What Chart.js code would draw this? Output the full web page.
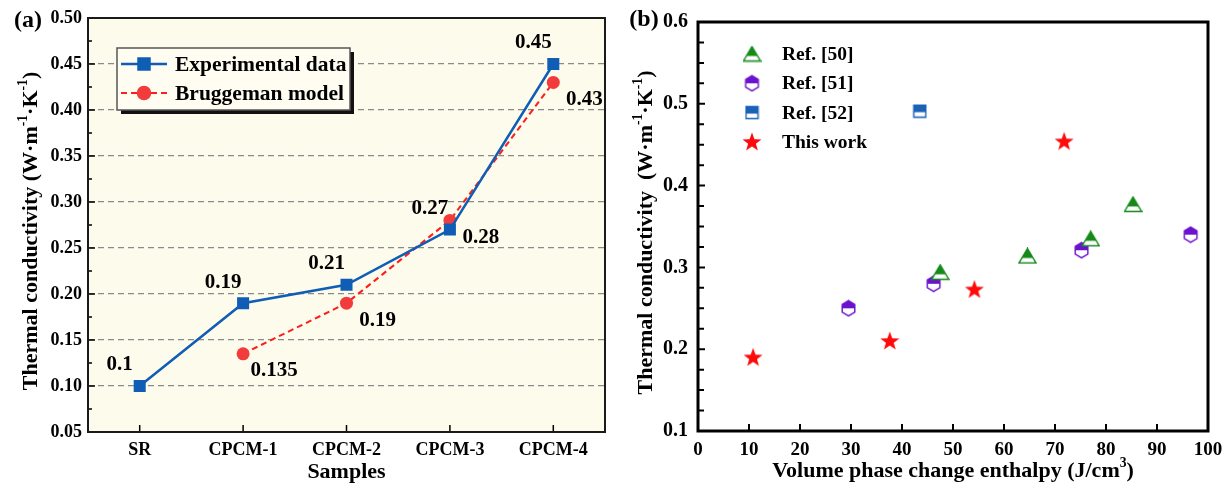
<!DOCTYPE html>
<html lang="en">
<head>
<meta charset="UTF-8">
<title>Thermal conductivity</title>
<script src="https://cdn.jsdelivr.net/npm/chart.js@4"></script>
<style>
  body { margin: 0; background: #fff; width: 1231px; height: 488px; overflow: hidden; }
  .panel { position: absolute; top: 0; height: 488px; }
  #boxA { left: 0; width: 615px; }
  #boxB { left: 615px; width: 616px; }
</style>
</head>
<body>
<div class="panel" id="boxA"><canvas id="chartA" width="615" height="488"></canvas></div>
<div class="panel" id="boxB"><canvas id="chartB" width="616" height="488"></canvas></div>

<script>
// ---- (a) conductivity of the samples ----
const samples = ['SR', 'CPCM-1', 'CPCM-2', 'CPCM-3', 'CPCM-4'];
const experimental = [0.10, 0.19, 0.21, 0.27, 0.45];
const bruggeman = [null, 0.135, 0.19, 0.28, 0.43];
const expLabels = ['0.1', '0.19', '0.21', '0.27', '0.45'];
const brugLabels = ['', '0.135', '0.19', '0.28', '0.43'];
const yTicksA = [0.05, 0.10, 0.15, 0.20, 0.25, 0.30, 0.35, 0.40, 0.45, 0.50];

// ---- (b) conductivity vs volume enthalpy ----
const ref50X = [47.5, 64.6, 77.0, 85.3];
const ref50Y = [0.294, 0.314, 0.335, 0.377];
const ref51X = [29.5, 46.2, 75.2, 96.6];
const ref51Y = [0.250, 0.280, 0.321, 0.340];
const ref52X = [43.5];
const ref52Y = [0.491];
const workX = [10.8, 37.6, 54.2, 71.8];
const workY = [0.190, 0.210, 0.273, 0.454];
const xTicksB = [0, 10, 20, 30, 40, 50, 60, 70, 80, 90, 100];
const yTicksB = [0.1, 0.2, 0.3, 0.4, 0.5, 0.6];

const serif = '"Liberation Serif", "Times New Roman", serif';
Chart.defaults.font.family = serif;
Chart.defaults.font.weight = 'bold';
Chart.defaults.color = '#000';

const blue = '#0f5db5';
const red = '#f23c3c';
const green = '#15891a';
const purple = '#6a12cf';
const sqBlue = '#1a62b8';

// half filled marker pictures
function marker(w, h, path, fillTo, color) {
  const c = document.createElement('canvas');
  c.width = w; c.height = h;
  const ctx = c.getContext('2d');
  path(ctx); ctx.fillStyle = '#fff'; ctx.fill();
  ctx.save();
  ctx.beginPath(); ctx.rect(0, 0, w, fillTo); ctx.clip();
  path(ctx); ctx.fillStyle = color; ctx.fill();
  ctx.restore();
  path(ctx); ctx.strokeStyle = color; ctx.lineWidth = 1.4; ctx.stroke();
  return c;
}
const triMark = marker(19, 17, ctx => {
  ctx.beginPath(); ctx.moveTo(9.5, 1); ctx.lineTo(18, 15.5); ctx.lineTo(1, 15.5); ctx.closePath();
}, 10.5, green);
const hexMark = marker(17, 18, ctx => {
  ctx.beginPath();
  for (let k = 0; k < 6; k++) {
    const a = -Math.PI / 2 + k * Math.PI / 3;
    const px = 8.5 + 7.3 * Math.cos(a), py = 9 + 7.6 * Math.sin(a);
    k ? ctx.lineTo(px, py) : ctx.moveTo(px, py);
  }
  ctx.closePath();
}, 9, purple);
const sqMark = marker(15, 15, ctx => {
  ctx.beginPath(); ctx.rect(1.5, 1.5, 12, 12);
}, 8.5, sqBlue);
const starMark = (() => {
  const c = document.createElement('canvas');
  c.width = 22; c.height = 22;
  const ctx = c.getContext('2d');
  ctx.beginPath();
  for (let k = 0; k < 10; k++) {
    const a = -Math.PI / 2 + k * Math.PI / 5;
    const r = k % 2 ? 4.1 : 10;
    const px = 11 + r * Math.cos(a), py = 11.5 + r * Math.sin(a);
    k ? ctx.lineTo(px, py) : ctx.moveTo(px, py);
  }
  ctx.closePath();
  ctx.fillStyle = '#ff0a0a'; ctx.fill();
  return c;
})();

// text with superscripts, optionally rotated
function richText(ctx, parts, x, y, size, rotate) {
  ctx.save();
  ctx.translate(x, y);
  if (rotate) ctx.rotate(-Math.PI / 2);
  ctx.textBaseline = 'middle';
  ctx.textAlign = 'left';
  ctx.fillStyle = '#000';
  let total = 0;
  parts.forEach(p => {
    ctx.font = 'bold ' + (p.sup ? size * 0.62 : size) + 'px ' + serif;
    total += ctx.measureText(p.t).width;
  });
  let cx = -total / 2;
  parts.forEach(p => {
    ctx.font = 'bold ' + (p.sup ? size * 0.62 : size) + 'px ' + serif;
    ctx.fillText(p.t, cx, p.sup ? -size * 0.33 : 0);
    cx += ctx.measureText(p.t).width;
  });
  ctx.restore();
}

const panelPlugin = {
  id: 'panel',
  beforeDraw(chart, args, o) {
    const a = chart.chartArea, ctx = chart.ctx;
    if (o.bg) {
      ctx.save();
      ctx.fillStyle = o.bg;
      ctx.fillRect(a.left, a.top, a.right - a.left, a.bottom - a.top);
      ctx.restore();
    }
  },
  afterDatasetsDraw(chart, args, o) {
    const ctx = chart.ctx;
    (o.valueLabels || []).forEach((lab, di) => {
      const meta = chart.getDatasetMeta(di);
      ctx.save();
      ctx.font = 'bold ' + o.valueFont + 'px ' + serif;
      ctx.fillStyle = '#000';
      ctx.textAlign = 'center';
      ctx.textBaseline = 'middle';
      meta.data.forEach((pt, i) => {
        if (!lab.text[i] || pt.skip) return;
        ctx.fillText(lab.text[i], pt.x + lab.dx, pt.y + lab.dy);
      });
      ctx.restore();
    });
  },
  afterDraw(chart, args, o) {
    const a = chart.chartArea, ctx = chart.ctx;
    const xs = chart.scales.x, ys = chart.scales.y;
    ctx.save();
    // inward ticks
    ctx.strokeStyle = '#000';
    ctx.lineWidth = o.tickWidth;
    ctx.beginPath();
    xs.ticks.forEach((t, i) => {
      const px = xs.getPixelForTick(i);
      ctx.moveTo(px, a.bottom); ctx.lineTo(px, a.bottom - o.tickLen);
    });
    o.yMajor.forEach(v => {
      const py = ys.getPixelForValue(v);
      ctx.moveTo(a.left, py); ctx.lineTo(a.left + o.tickLen, py);
    });
    o.yMinor.forEach(v => {
      const py = ys.getPixelForValue(v);
      ctx.moveTo(a.left, py); ctx.lineTo(a.left + o.minorLen, py);
    });
    ctx.stroke();
    // frame
    ctx.lineWidth = o.frame;
    ctx.strokeStyle = o.frameColor;
    ctx.strokeRect(a.left, a.top, a.right - a.left, a.bottom - a.top);
    ctx.restore();

    // titles
    richText(ctx, o.xTitle, (a.left + a.right) / 2, o.xTitleY, 22, false);
    richText(ctx, o.yTitle, o.yTitleX, (a.top + a.bottom) / 2 + 6, 22, true);
    richText(ctx, [{ t: o.tag }], o.tagX, o.tagY, 24, false);

    // legend
    const L = o.legend;
    ctx.save();
    if (L.box) {
      const b = L.box;
      ctx.fillStyle = '#111';
      ctx.fillRect(b[0] + 4, b[1] + 4, b[2], b[3]);
      ctx.fillStyle = '#fffdf2';
      ctx.fillRect(b[0], b[1], b[2], b[3]);
      ctx.strokeStyle = '#555';
      ctx.lineWidth = 1.5;
      ctx.strokeRect(b[0], b[1], b[2], b[3]);
    }
    ctx.font = 'bold ' + L.font + 'px ' + serif;
    ctx.textBaseline = 'middle';
    ctx.textAlign = 'left';
    chart.data.datasets.forEach((ds, i) => {
      const y = L.y0 + i * L.dy;
      if (L.line) {
        ctx.save();
        ctx.strokeStyle = ds.borderColor;
        ctx.lineWidth = ds.borderWidth;
        ctx.setLineDash(ds.borderDash || []);
        ctx.beginPath(); ctx.moveTo(L.line[0], y); ctx.lineTo(L.line[1], y); ctx.stroke();
        ctx.restore();
      }
      ctx.fillStyle = ds.pointBackgroundColor || ds.backgroundColor;
      ctx.strokeStyle = ds.pointBorderColor || ds.borderColor || '#000';
      Chart.helpers.drawPoint(ctx, { pointStyle: ds.pointStyle, radius: ds.pointRadius, rotation: 0, borderWidth: 1 }, L.mx, y);
      ctx.fillStyle = '#000';
      ctx.fillText(ds.label, L.tx, y + 1);
    });
    ctx.restore();
  }
};

// ---------- (a) ----------
new Chart(document.getElementById('chartA'), {
  type: 'line',
  data: {
    labels: samples,
    datasets: [
      {
        label: 'Experimental data', data: experimental,
        borderColor: blue, backgroundColor: blue, borderWidth: 2.5,
        pointStyle: 'rect', pointRadius: 8.5, pointHoverRadius: 8.5, pointBorderWidth: 0
      },
      {
        label: 'Bruggeman model', data: bruggeman,
        borderColor: '#ff1c1c', borderWidth: 2, borderDash: [6, 4],
        backgroundColor: red, pointBackgroundColor: red, pointBorderColor: red,
        pointStyle: 'circle', pointRadius: 6.5, pointHoverRadius: 6.5, pointBorderWidth: 0
      }
    ]
  },
  options: {
    responsive: false, animation: false, devicePixelRatio: 1,
    layout: { padding: { top: 18, right: 10, left: 0, bottom: 0 } },
    plugins: {
      legend: { display: false },
      tooltip: { enabled: false },
      panel: {
        bg: '#fdfbeb', frame: 2, frameColor: '#1a1a1a', tickWidth: 1.5, tickLen: 7, minorLen: 4,
        yMajor: yTicksA, yMinor: yTicksA.slice(1).map(v => v - 0.025),
        valueFont: 21,
        valueLabels: [{ text: expLabels, dx: -20, dy: -21 }, { text: brugLabels, dx: 31, dy: 17 }],
        xTitle: [{ t: 'Samples' }], xTitleY: 472,
        yTitle: [{ t: 'Thermal conductivity (W·m' }, { t: '-1', sup: true }, { t: '·K' }, { t: '-1', sup: true }, { t: ')' }],
        yTitleX: 31, tag: '(a)', tagX: 28, tagY: 21,
        legend: { box: [117, 48, 233, 62], line: [121, 167], mx: 144, tx: 175, y0: 64, dy: 29, font: 21.5 }
      }
    },
    scales: {
      x: {
        offset: true,
        grid: { display: false, drawTicks: false },
        border: { display: false },
        ticks: { font: { size: 18 }, padding: 8 },
        afterFit: s => { s.height = 56; }
      },
      y: {
        min: 0.05, max: 0.5,
        afterBuildTicks: s => { s.ticks = yTicksA.map(v => ({ value: v })); },
        ticks: { font: { size: 18 }, padding: 6, callback: v => v.toFixed(2) },
        grid: { color: '#8a8a8a', lineWidth: 1.2, drawTicks: false },
        border: { display: false, dash: [6, 4] },
        afterFit: s => { s.width = 88; }
      }
    }
  },
  plugins: [panelPlugin]
});

// ---------- (b) ----------
const pts = (xs, ys) => xs.map((x, i) => ({ x: x, y: ys[i] }));
new Chart(document.getElementById('chartB'), {
  type: 'scatter',
  data: {
    datasets: [
      { label: 'Ref. [50]', data: pts(ref50X, ref50Y), pointStyle: triMark, pointRadius: 9, backgroundColor: green },
      { label: 'Ref. [51]', data: pts(ref51X, ref51Y), pointStyle: hexMark, pointRadius: 9, backgroundColor: purple },
      { label: 'Ref. [52]', data: pts(ref52X, ref52Y), pointStyle: sqMark, pointRadius: 8, backgroundColor: sqBlue },
      { label: 'This work', data: pts(workX, workY), pointStyle: starMark, pointRadius: 10, backgroundColor: '#ff0a0a' }
    ]
  },
  options: {
    responsive: false, animation: false, devicePixelRatio: 1,
    layout: { padding: { top: 19, right: 23, left: 0, bottom: 0 } },
    plugins: {
      legend: { display: false },
      tooltip: { enabled: false },
      panel: {
        bg: null, frame: 3, frameColor: '#000', tickWidth: 2, tickLen: 7, minorLen: 6,
        yMajor: yTicksB, yMinor: yTicksB.slice(1).flatMap(v => [v - 0.075, v - 0.05, v - 0.025]),
        valueLabels: [],
        xTitle: [{ t: 'Volume phase change enthalpy (J/cm' }, { t: '3', sup: true }, { t: ')' }], xTitleY: 471,
        yTitle: [{ t: 'Thermal conductivity  (W·m' }, { t: '-1', sup: true }, { t: '·K' }, { t: '-1', sup: true }, { t: ')' }],
        yTitleX: 31, tag: '(b)', tagX: 29, tagY: 20,
        legend: { box: null, line: null, mx: 137, tx: 167, y0: 54, dy: 29.3, font: 19.5 }
      }
    },
    scales: {
      x: {
        min: 0, max: 100,
        afterBuildTicks: s => { s.ticks = xTicksB.map(v => ({ value: v })); },
        grid: { display: false, drawTicks: false },
        border: { display: false },
        ticks: { font: { size: 19 }, padding: 8 },
        afterFit: s => { s.height = 57; }
      },
      y: {
        min: 0.1, max: 0.6,
        afterBuildTicks: s => { s.ticks = yTicksB.map(v => ({ value: v })); },
        grid: { display: false, drawTicks: false },
        border: { display: false },
        ticks: { font: { size: 20 }, padding: 10, callback: v => v.toFixed(1) },
        afterFit: s => { s.width = 83; }
      }
    }
  },
  plugins: [panelPlugin]
});
</script>
</body>
</html>
